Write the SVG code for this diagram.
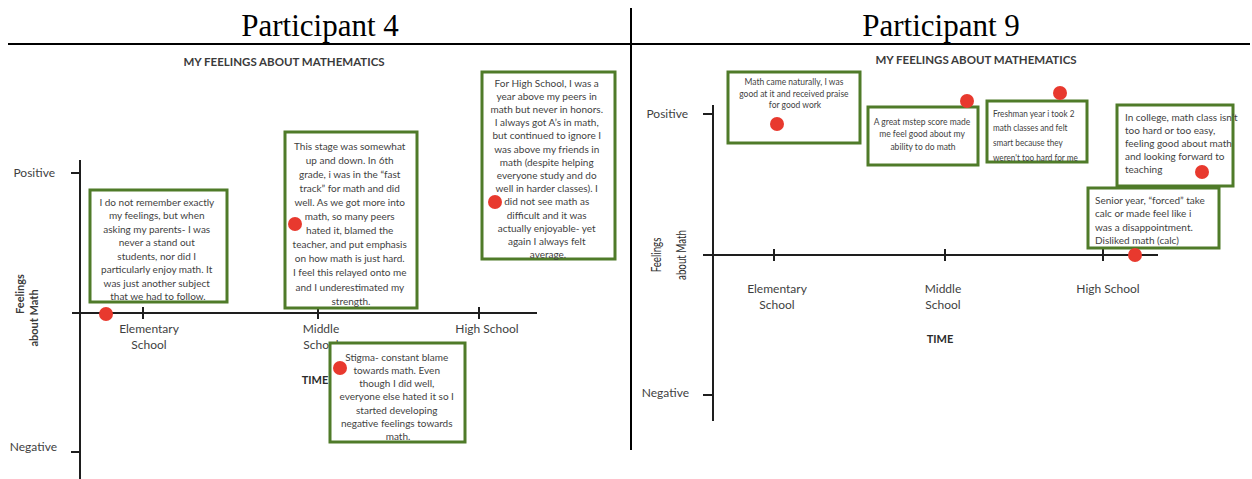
<svg xmlns="http://www.w3.org/2000/svg" width="1252" height="479" viewBox="0 0 1252 479">
  <style>
    .hdr { font-family: "Liberation Serif", serif; font-size: 31px; fill: #000; text-anchor: middle; }
    .ttl { font-family: Lato, "Liberation Sans", sans-serif; font-weight: bold; font-size: 11.5px; fill: #3b3b3b; text-anchor: middle; }
    .lbl { font-family: Lato, "Liberation Sans", sans-serif; font-size: 12px; fill: #3f3f3f; text-anchor: middle; }
    .val { font-family: Lato, "Liberation Sans", sans-serif; font-size: 12px; fill: #3f3f3f; text-anchor: end; }
    .time { font-family: Lato, "Liberation Sans", sans-serif; font-weight: bold; font-size: 11px; fill: #2b2b2b; text-anchor: middle; }
    .ylab { font-family: Lato, "Liberation Sans", sans-serif; font-weight: bold; font-size: 11px; fill: #3b3b3b; text-anchor: middle; }
    .ylab2 { font-family: Lato, "Liberation Sans", sans-serif; font-size: 13px; fill: #2b2b2b; text-anchor: middle; }
    .note { font-family: Lato, "Liberation Sans", sans-serif; font-size: 10px; fill: #3f3f3f; text-anchor: middle; }
    .small { font-family: Lato, "Liberation Sans", sans-serif; font-size: 8.5px; fill: #3f3f3f; }
    .mid { font-size: 10px; }
    .cond { font-size: 10px; }
    .box { fill: #fff; stroke: #4f7b29; stroke-width: 3; }
    .axis { stroke: #1e1e1e; stroke-width: 2; fill: none; }
    .rule { stroke: #000; stroke-width: 2; fill: none; }
    .dot { fill: #e8392e; }
  </style>

  <rect width="1252" height="479" fill="#fff"/>

  <!-- page header and dividers -->
  <g id="header">
    <line class="rule" x1="8" y1="44" x2="1250" y2="44"/>
    <line class="rule" x1="631" y1="8" x2="631" y2="450"/>
    <text class="hdr" x="320" y="36">Participant 4</text>
    <text class="hdr" x="941" y="36">Participant 9</text>
  </g>

  <!-- ===== Participant 4 chart ===== -->
  <g id="p4-axes">
    <text class="ttl" x="284" y="66">MY FEELINGS ABOUT MATHEMATICS</text>
    <line class="axis" x1="80" y1="160" x2="80" y2="479"/>
    <line class="axis" x1="71" y1="173" x2="80" y2="173"/>
    <line class="axis" x1="71" y1="452" x2="80" y2="452"/>
    <line class="axis" x1="72" y1="313" x2="537" y2="313"/>
    <line class="axis" x1="143" y1="307" x2="143" y2="319"/>
    <line class="axis" x1="318" y1="307" x2="318" y2="319"/>
    <line class="axis" x1="479" y1="307" x2="479" y2="319"/>
    <text class="val" x="55" y="177">Positive</text>
    <text class="val" x="57" y="451">Negative</text>
    <text class="ylab" transform="translate(24,294) rotate(-90)">Feelings</text>
    <text class="ylab" transform="translate(38,318) rotate(-90)">about Math</text>
    <text class="lbl" x="149" y="333">Elementary</text>
    <text class="lbl" x="149" y="349">School</text>
    <text class="lbl" x="321" y="333">Middle</text>
    <text class="lbl" x="321" y="349">School</text>
    <text class="lbl" x="487" y="333">High School</text>
    <text class="time" x="315" y="384">TIME</text>
  </g>

  <g id="p4-elementary">
    <rect class="box" x="90" y="190" width="137" height="112"/>
    <text class="note" x="158">
      <tspan x="158" y="205.5">I do not remember exactly</tspan>
      <tspan x="158" y="219">my feelings, but when</tspan>
      <tspan x="158" y="232.5">asking my parents- I was</tspan>
      <tspan x="158" y="246">never a stand out</tspan>
      <tspan x="158" y="259.5">students, nor did I</tspan>
      <tspan x="158" y="273">particularly enjoy math. It</tspan>
      <tspan x="158" y="286.5">was just another subject</tspan>
      <tspan x="158" y="300">that we had to follow.</tspan>
    </text>
    <circle class="dot" cx="106" cy="314" r="7"/>
  </g>

  <g id="p4-middle">
    <rect class="box" x="285" y="132" width="132" height="176"/>
    <text class="note">
      <tspan x="351" y="149.5">This stage was somewhat</tspan>
      <tspan x="351" y="163.6">up and down. In 6th</tspan>
      <tspan x="351" y="177.7">grade, i was in the “fast</tspan>
      <tspan x="351" y="191.8">track” for math and did</tspan>
      <tspan x="351" y="205.9">well. As we got more into</tspan>
      <tspan x="351" y="220">math, so many peers</tspan>
      <tspan x="351" y="234.1">hated it, blamed the</tspan>
      <tspan x="351" y="248.2">teacher, and put emphasis</tspan>
      <tspan x="351" y="262.3">on how math is just hard.</tspan>
      <tspan x="351" y="276.4">I feel this relayed onto me</tspan>
      <tspan x="351" y="290.5">and I underestimated my</tspan>
      <tspan x="351" y="304.6">strength.</tspan>
    </text>
    <circle class="dot" cx="295" cy="224" r="7"/>
  </g>

  <g id="p4-high">
    <rect class="box" x="482" y="72" width="133" height="187"/>
    <text class="note">
      <tspan x="548" y="86.5">For High School, I was a</tspan>
      <tspan x="548" y="99.7">year above my peers in</tspan>
      <tspan x="548" y="112.9">math but never in honors.</tspan>
      <tspan x="548" y="126.1">I always got A’s in math,</tspan>
      <tspan x="548" y="139.3">but continued to ignore I</tspan>
      <tspan x="548" y="152.5">was above my friends in</tspan>
      <tspan x="548" y="165.7">math (despite helping</tspan>
      <tspan x="548" y="178.9">everyone study and do</tspan>
      <tspan x="548" y="192.1">well in harder classes). I</tspan>
      <tspan x="548" y="205.3">did not see math as</tspan>
      <tspan x="548" y="218.5">difficult and it was</tspan>
      <tspan x="548" y="231.7">actually enjoyable- yet</tspan>
      <tspan x="548" y="244.9">again I always felt</tspan>
      <tspan x="548" y="258.1">average.</tspan>
    </text>
    <circle class="dot" cx="495" cy="202" r="7"/>
  </g>

  <g id="p4-stigma">
    <rect class="box" x="330" y="343" width="135" height="99"/>
    <text class="note">
      <tspan x="398" y="360.5">Stigma- constant blame</tspan>
      <tspan x="398" y="373.8">towards math. Even</tspan>
      <tspan x="398" y="387.1">though I did well,</tspan>
      <tspan x="398" y="400.4">everyone else hated it so I</tspan>
      <tspan x="398" y="413.7">started developing</tspan>
      <tspan x="398" y="427">negative feelings towards</tspan>
      <tspan x="398" y="440.3">math.</tspan>
    </text>
    <circle class="dot" cx="340" cy="368" r="7"/>
  </g>

  <!-- ===== Participant 9 chart ===== -->
  <g id="p9-axes">
    <text class="ttl" x="976" y="64">MY FEELINGS ABOUT MATHEMATICS</text>
    <line class="axis" x1="713" y1="105" x2="713" y2="421"/>
    <line class="axis" x1="703" y1="114" x2="713" y2="114"/>
    <line class="axis" x1="703" y1="395" x2="713" y2="395"/>
    <line class="axis" x1="703" y1="255" x2="1158" y2="255"/>
    <line class="axis" x1="774" y1="249" x2="774" y2="261"/>
    <line class="axis" x1="945" y1="249" x2="945" y2="261"/>
    <line class="axis" x1="1103" y1="249" x2="1103" y2="261"/>
    <text class="val" x="688" y="118">Positive</text>
    <text class="val" x="689" y="397">Negative</text>
    <text class="ylab2" transform="translate(661,255) rotate(-90) scale(0.75,1)">Feelings</text>
    <text class="ylab2" transform="translate(686,255) rotate(-90) scale(0.75,1)">about Math</text>
    <text class="lbl" x="777" y="293">Elementary</text>
    <text class="lbl" x="777" y="309">School</text>
    <text class="lbl" x="943" y="293">Middle</text>
    <text class="lbl" x="943" y="309">School</text>
    <text class="lbl" x="1108" y="293">High School</text>
    <text class="time" x="940" y="343">TIME</text>
  </g>

  <g id="p9-elementary">
    <rect class="box" x="728" y="72" width="132" height="71"/>
    <text class="small" text-anchor="middle">
      <tspan x="795" y="85">Math came naturally, I was</tspan>
      <tspan x="795" y="96.5">good at it and received praise</tspan>
      <tspan x="795" y="108">for good work</tspan>
    </text>
    <circle class="dot" cx="777" cy="124" r="7"/>
  </g>

  <g id="p9-middle">
    <rect class="box" x="868" y="107" width="110" height="58"/>
    <text class="small" text-anchor="middle">
      <tspan x="923" y="125">A great mstep score made</tspan>
      <tspan x="923" y="137">me feel good about my</tspan>
      <tspan x="923" y="150">ability to do math</tspan>
    </text>
    <circle class="dot" cx="967" cy="101" r="7"/>
  </g>

  <g id="p9-freshman">
    <rect class="box" x="987" y="101" width="100" height="61"/>
    <text class="small cond" transform="translate(993,0) scale(0.82,1)">
      <tspan x="0" y="117">Freshman year i took 2</tspan>
      <tspan x="0" y="131">math classes and felt</tspan>
      <tspan x="0" y="146">smart because they</tspan>
      <tspan x="0" y="161">weren't too hard for me</tspan>
    </text>
    <circle class="dot" cx="1060" cy="93" r="7"/>
  </g>

  <g id="p9-college">
    <rect class="box" x="1117" y="105" width="116" height="81"/>
    <text class="small mid">
      <tspan x="1125" y="121">In college, math class isn’t</tspan>
      <tspan x="1125" y="134">too hard or too easy,</tspan>
      <tspan x="1125" y="147">feeling good about math</tspan>
      <tspan x="1125" y="160">and looking forward to</tspan>
      <tspan x="1125" y="173">teaching</tspan>
    </text>
    <circle class="dot" cx="1202" cy="172" r="7"/>
  </g>

  <g id="p9-senior">
    <rect class="box" x="1088" y="188" width="131" height="60"/>
    <text class="small mid">
      <tspan x="1095" y="204">Senior year, “forced” take</tspan>
      <tspan x="1095" y="217">calc or made feel like i</tspan>
      <tspan x="1095" y="230.5">was a disappointment.</tspan>
      <tspan x="1095" y="244">Disliked math (calc)</tspan>
    </text>
    <circle class="dot" cx="1135" cy="255" r="7"/>
  </g>
</svg>
